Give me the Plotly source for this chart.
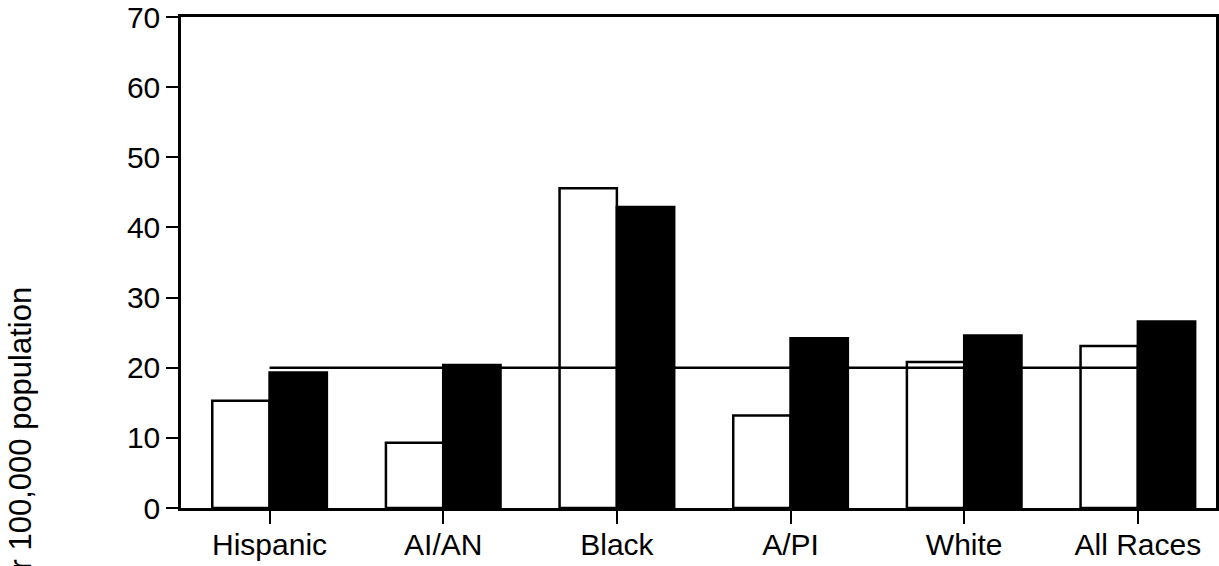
import plotly.graph_objects as go

categories = ["Hispanic", "AI/AN", "Black", "A/PI", "White", "All Races"]
series_open = [15.3, 9.3, 45.6, 13.2, 20.8, 23.1]
series_solid = [19.3, 20.4, 42.9, 24.2, 24.6, 26.6]
target_value = 20
y_ticks = [0, 10, 20, 30, 40, 50, 60, 70]

FONT = "Liberation Sans, Arial, Helvetica, sans-serif"

fig = go.Figure()
fig.add_trace(go.Bar(
    x=categories, y=series_open, name="Series A",
    marker=dict(color="white", line=dict(color="black", width=2.5)),
))
fig.add_trace(go.Bar(
    x=categories, y=series_solid, name="Series B",
    marker=dict(color="black", line=dict(color="black", width=2.5)),
))
fig.add_trace(go.Scatter(
    x=[categories[0], categories[-1]], y=[target_value, target_value],
    mode="lines", line=dict(color="black", width=2.5), name="Target",
))

fig.update_layout(
    width=1219, height=566,
    margin=dict(l=181, r=3, t=17, b=58, autoexpand=False),
    paper_bgcolor="white", plot_bgcolor="white",
    barmode="group", bargap=0.34, bargroupgap=0,
    showlegend=False,
    font=dict(family=FONT, size=30, color="black"),
)
fig.update_xaxes(
    range=[-0.51, 5.45],
    showline=True, linecolor="black", linewidth=2.5, mirror=True,
    ticks="outside", ticklen=13, tickwidth=2, tickcolor="black",
    showgrid=False, tickfont=dict(size=30), automargin=False,
    ticklabelstandoff=-5,
)
fig.update_yaxes(
    range=[0, 70], tickvals=y_ticks,
    showline=True, linecolor="black", linewidth=2.5, mirror=True,
    ticks="outside", ticklen=12, tickwidth=2, tickcolor="black",
    showgrid=False, zeroline=False, tickfont=dict(size=30), automargin=False,
    ticklabeloverflow="allow",
)
fig.add_annotation(
    text="Rate per 100,000 population", textangle=-90,
    xref="paper", yref="paper", x=-0.155, y=0.052,
    xanchor="center", yanchor="middle", showarrow=False,
    font=dict(size=31, color="black"),
)

fig.write_html("out.html", config={"displayModeBar": False},
               post_script="document.body.style.margin='0';")
